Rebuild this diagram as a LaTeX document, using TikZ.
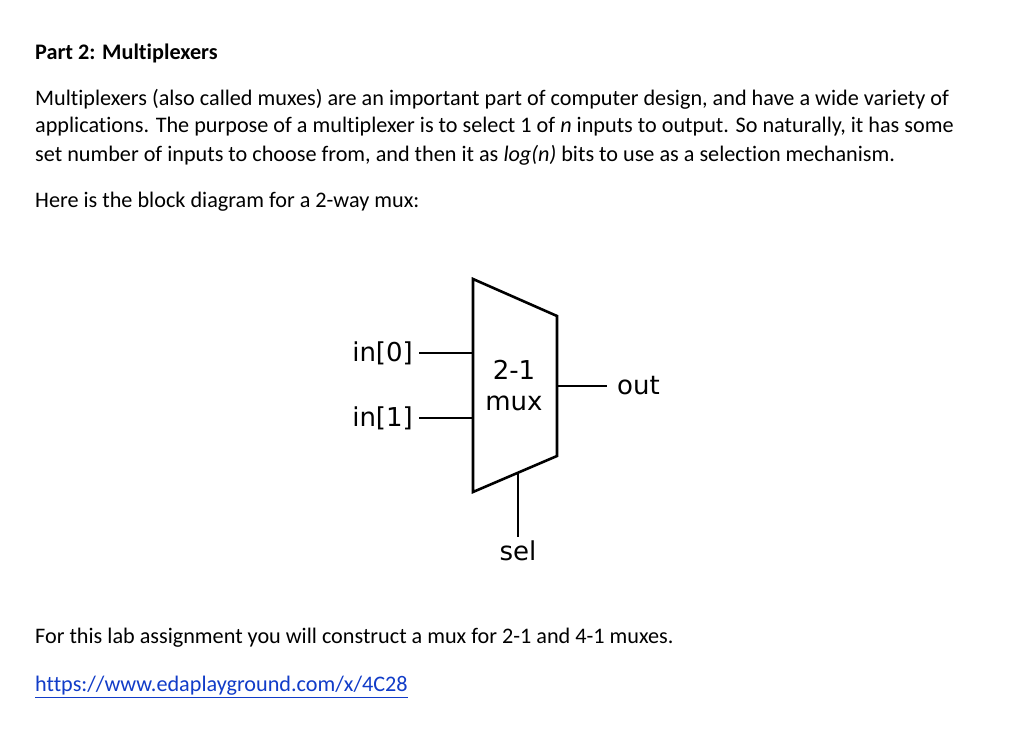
\documentclass[tikz,border=0pt]{standalone}
\usepackage{fontspec}
\setmainfont[Ligatures={NoCommon}]{Carlito}
\newfontfamily\djv{DejaVu Sans}
\definecolor{linkblue}{RGB}{17,60,200}
\begin{document}
\begin{tikzpicture}[x=1pt,y=-1pt,
  body/.style={anchor=west,inner sep=0,font=\fontsize{22.2}{26}\selectfont},
  dlab/.style={inner sep=0,font=\djv\fontsize{26}{30}\selectfont},
  wire/.style={line width=2.6pt}]
\useasboundingbox[fill=white] (0,0) rectangle (1024,752);
\node[body,font=\bfseries\fontsize{22.2}{26}\selectfont] (title) at (35,53) {Part 2: Multiplexers};
\node[body] (l1) at (35,99) {Multiplexers (also called muxes) are an important part of computer design, and have a wide variety of};
\node[body] (l2) at (35,127) {applications. The purpose of a multiplexer is to select 1 of \textit{n} inputs to output. So naturally, it has some};
\node[body] (l3) at (35,155) {set number of inputs to choose from, and then it as \textit{log(n)} bits to use as a selection mechanism.};
\node[body] (l4) at (35,202) {Here is the block diagram for a 2-way mux:};
\node[body] (l5) at (35,638) {For this lab assignment you will construct a mux for 2-1 and 4-1 muxes.};
\node[body,text=linkblue] (link) at (35,686) {https://www.edaplayground.com/x/4C28};
\draw[linkblue,line width=1.2pt] ([yshift=-2]link.south west) -- ([yshift=-2]link.south east);
% mux
\coordinate (tl) at (473,279); \coordinate (tr) at (557,316);
\coordinate (br) at (557,456); \coordinate (bl) at (473,492);
\draw[wire,line join=miter] (tl) -- (tr) -- (br) -- (bl) -- cycle;
\node[dlab] (m1) at (514,370) {2-1};
\node[dlab] (m2) at (514,403) {mux};
\node[dlab,anchor=east] (i0) at (413,353) {in[0]};
\node[dlab,anchor=east] (i1) at (413,418) {in[1]};
\node[dlab,anchor=west] (o) at (617,386) {out};
\node[dlab] (s) at (518,551) {sel};
\coordinate (a0) at (473,353); \coordinate (a1) at (473,418);
\coordinate (ao) at (557,386); \coordinate (as) at (518,473);
\draw[wire] (i0.east) ++(6,0) -- (a0);
\draw[wire] (i1.east) ++(6,0) -- (a1);
\draw[wire] (ao) -- (607,386);
\draw[wire] (as) -- (518,537);
\end{tikzpicture}
\end{document}
